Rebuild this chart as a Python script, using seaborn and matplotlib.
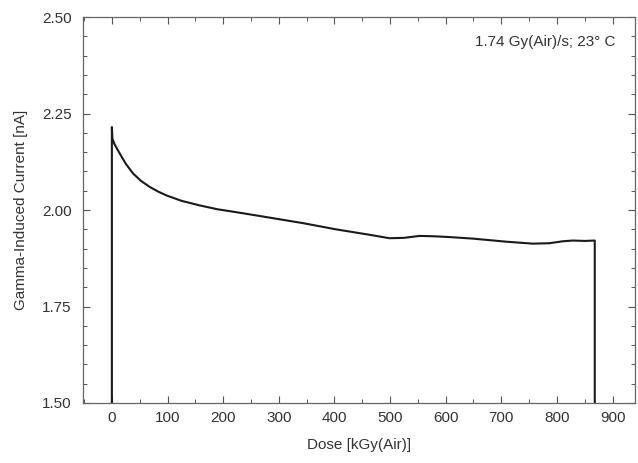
import matplotlib
matplotlib.use("Agg")
import matplotlib.pyplot as plt
from matplotlib.ticker import MultipleLocator, FormatStrFormatter
import seaborn as sns
import pandas as pd

sns.set_theme(style="white")
plt.rcParams["font.family"] = ["Liberation Sans", "DejaVu Sans"]

# Gamma-induced current versus accumulated dose
dose = [0, 0, 1, 5, 14, 25, 38, 52, 68, 83, 98, 125, 158, 190, 217, 260, 302,
        344, 403, 463, 499, 525, 553, 580, 607, 649, 709, 756, 786, 810, 828,
        850, 868, 868]
current = [1.50, 2.215, 2.185, 2.170, 2.147, 2.120, 2.095, 2.076, 2.060, 2.048,
           2.038, 2.024, 2.012, 2.002, 1.996, 1.986, 1.976,
           1.966, 1.950, 1.936, 1.927, 1.928, 1.933, 1.932, 1.930, 1.926,
           1.918, 1.913, 1.914, 1.919, 1.921, 1.920, 1.921, 1.50]

df = pd.DataFrame({"dose": dose, "current": current})

fig = plt.figure(figsize=(6.38, 4.63), dpi=100)
ax = fig.add_axes([0.130, 0.1296, 0.865, 0.8334])

sns.lineplot(data=df, x="dose", y="current", sort=False, estimator=None,
             color="#1a1a1a", linewidth=1.5, ax=ax)

ax.set_xlim(-52, 940)
ax.set_ylim(1.50, 2.50)
ax.xaxis.set_major_locator(MultipleLocator(100))
ax.xaxis.set_minor_locator(MultipleLocator(50))
ax.yaxis.set_major_locator(MultipleLocator(0.25))
ax.yaxis.set_minor_locator(MultipleLocator(0.05))
ax.yaxis.set_major_formatter(FormatStrFormatter("%.2f"))

ax.tick_params(which="both", direction="in", top=True, right=True,
               bottom=True, left=True,
               color="#555555", labelcolor="#333333", labelsize=11)
ax.tick_params(which="major", length=5, width=0.8)
ax.tick_params(which="minor", length=3, width=0.7)
ax.tick_params(axis="x", pad=6)
ax.tick_params(axis="y", pad=8)

for s in ax.spines.values():
    s.set_visible(True)
    s.set_color("#666666")
    s.set_linewidth(0.9)

ax.set_xlabel("Dose [kGy(Air)]", fontsize=11, color="#333333", labelpad=9)
ax.set_ylabel("Gamma-Induced Current [nA]", fontsize=11, color="#333333", labelpad=10)

ax.text(0.965, 0.935, "1.74 Gy(Air)/s; 23° C", transform=ax.transAxes,
        ha="right", va="center", fontsize=11, color="#333333")

fig.savefig("out.png", dpi=100, facecolor="white")
